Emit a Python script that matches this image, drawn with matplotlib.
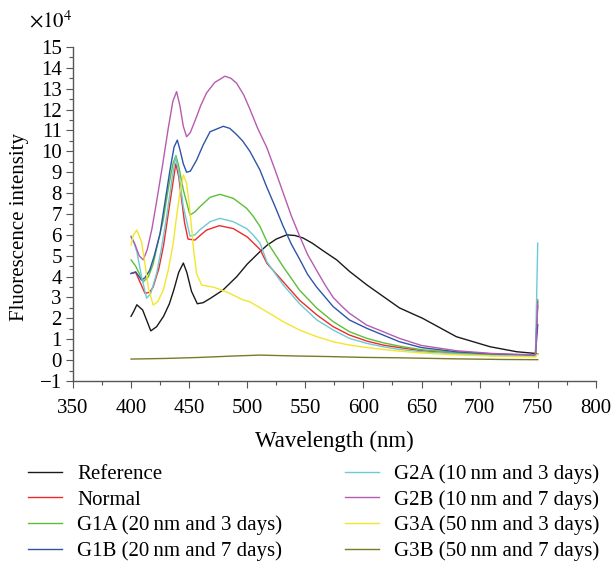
import matplotlib
matplotlib.use("Agg")
import matplotlib.pyplot as plt
from matplotlib.ticker import MultipleLocator, FuncFormatter

plt.rcParams['font.family'] = ['Liberation Serif', 'DejaVu Serif']
plt.rcParams['mathtext.fontset'] = 'stix'

# ---- data (intensity in units of 1e4) ----
ref_wl = [400, 402, 405, 410, 417, 422, 428, 433, 437, 441, 445, 448, 452, 457, 462, 468, 479, 491, 500, 511,
          517, 525, 534, 541, 548, 556, 565, 577, 588, 603, 617, 631, 651, 680, 709, 732, 748, 750]
ref_val = [2.1, 2.3, 2.65, 2.4, 1.4, 1.6, 2.1, 2.7, 3.4, 4.2, 4.65, 4.2, 3.3, 2.7, 2.75, 2.95, 3.35, 4.0, 4.6, 5.2,
           5.5, 5.8, 6.0, 5.97, 5.85, 5.6, 5.25, 4.8, 4.25, 3.6, 3.05, 2.5, 2.0, 1.12, 0.64, 0.4, 0.32, 0.3]

nor_wl = [400, 404, 408, 412, 416, 419, 424, 428, 432, 435, 438.5, 441, 443.5, 446, 449, 455, 460, 465, 476, 488,
          500, 511, 517, 531, 545, 560, 574, 588, 603, 617, 631, 650, 680, 710, 748, 750]
nor_val = [4.15, 4.2, 3.7, 3.2, 3.25, 3.5, 4.4, 5.5, 7.0, 8.1, 9.4, 8.8, 7.7, 6.6, 5.8, 5.75, 6.0, 6.23, 6.44, 6.3,
           5.9, 5.3, 4.63, 3.75, 2.87, 2.16, 1.6, 1.2, 0.91, 0.72, 0.6, 0.45, 0.33, 0.25, 0.2, 2.6]

g1a_wl = [400, 404, 410.5, 415, 419, 423, 427.7, 432, 436, 438.6, 441, 445, 450.7, 455, 459.3, 468, 476.5, 488,
          499.5, 505, 511, 517, 531, 545, 560, 574, 588, 603, 617, 631, 650, 680, 710, 748, 750]
g1a_val = [4.8, 4.5, 3.75, 4.0, 4.6, 5.6, 6.7, 8.2, 9.4, 9.8, 9.3, 8.15, 6.95, 7.1, 7.35, 7.8, 7.94, 7.75,
           7.27, 6.9, 6.4, 5.67, 4.47, 3.35, 2.48, 1.84, 1.36, 1.04, 0.83, 0.67, 0.5, 0.36, 0.28, 0.22, 2.9]

g1b_wl = [400, 404, 409, 412, 416, 420, 425, 429, 433.5, 437, 439.8, 442, 445, 447.8, 451, 456.4, 462, 468, 479.4,
          485, 490.9, 496, 502.3, 511, 516.7, 524, 531, 538, 545.4, 552, 559.7, 574, 588, 603, 617, 631, 650, 680,
          710, 748, 750]
g1b_val = [4.15, 4.23, 3.83, 3.95, 4.3, 5.0, 6.07, 7.5, 9.1, 10.2, 10.54, 10.1, 9.4, 9.0, 9.05, 9.58, 10.3, 10.94, 11.2,
           11.1, 10.8, 10.5, 10.0, 9.1, 8.3, 7.35, 6.4, 5.55, 4.8, 4.1, 3.5, 2.56, 1.92, 1.52, 1.2, 0.88, 0.6, 0.4,
           0.3, 0.22, 1.7]

g2a_wl = [400, 402, 405, 409, 413.4, 417, 422, 426, 430.6, 435, 438.4, 441, 445, 450.7, 455, 459, 468, 476.5, 488,
          499.5, 505, 511, 517, 531, 545, 560, 574, 588, 603, 617, 631, 650, 680, 710, 748, 750]
g2a_val = [5.94, 5.7, 5.2, 4.0, 2.96, 3.2, 4.15, 5.3, 6.87, 8.6, 9.74, 9.0, 7.35, 5.94, 6.0, 6.23, 6.63, 6.79, 6.63,
           6.3, 6.0, 5.6, 4.7, 3.6, 2.7, 1.92, 1.44, 1.04, 0.8, 0.64, 0.51, 0.4, 0.3, 0.22, 0.18, 5.6]

g2b_wl = [400, 403, 407, 410.5, 414, 418, 422, 427, 432, 436, 439.2, 442, 445, 447.8, 451, 456, 460, 465, 472, 480.8,
          486, 490.9, 497, 502, 509, 516.7, 524, 531, 538, 545.4, 552, 559.7, 567, 574, 581, 588, 602.7, 617, 631,
          650, 680, 710, 748, 750]
g2b_val = [5.9, 5.6, 5.0, 4.8, 5.3, 6.3, 7.6, 9.3, 11.1, 12.4, 12.86, 12.2, 11.2, 10.7, 10.9, 11.6, 12.2, 12.8, 13.3, 13.6,
           13.5, 13.26, 12.7, 12.06, 11.1, 10.2, 9.1, 8.0, 6.9, 5.9, 5.05, 4.3, 3.6, 3.0, 2.6, 2.24, 1.68, 1.36, 1.04,
           0.7, 0.45, 0.32, 0.25, 2.8]

g3a_wl = [400, 402, 405, 409, 412, 414.8, 419, 423, 427.7, 432, 436.3, 439, 442, 445, 447.8, 450, 452, 454, 456.4,
          460.7, 465, 470.7, 482, 496.6, 502, 516.7, 531, 545, 560, 574, 588, 603, 617, 631, 650, 680, 710, 748, 750]
g3a_val = [5.5, 6.0, 6.23, 5.67, 4.6, 3.5, 2.64, 2.8, 3.35, 4.3, 5.6, 6.8, 8.0, 8.87, 8.47, 7.5, 6.4, 5.2, 4.15,
           3.6, 3.55, 3.5, 3.27, 2.88, 2.8, 2.32, 1.84, 1.44, 1.12, 0.88, 0.72, 0.6, 0.51, 0.43, 0.34, 0.25, 0.2, 0.15, 0.3]

g3b_wl = [400, 430, 460, 490, 511, 540, 570, 600, 631, 680, 720, 750]
g3b_val = [0.05, 0.08, 0.13, 0.2, 0.24, 0.2, 0.17, 0.13, 0.11, 0.06, 0.03, 0.02]

labels = ["Reference", "Normal", "G1A (20\u2009nm and 3 days)", "G1B (20\u2009nm and 7 days)",
          "G2A (10\u2009nm and 3 days)", "G2B (10\u2009nm and 7 days)", "G3A (50\u2009nm and 3 days)",
          "G3B (50\u2009nm and 7 days)"]
colors = ["#1a1a1a", "#ee2a2a", "#5cbf3a", "#2f55a8", "#6ccad6", "#b65cb0", "#f2e62c", "#7a7a2c"]

series = [(ref_wl, ref_val), (nor_wl, nor_val), (g1a_wl, g1a_val), (g1b_wl, g1b_val),
          (g2a_wl, g2a_val), (g2b_wl, g2b_val), (g3a_wl, g3a_val), (g3b_wl, g3b_val)]

FS = 15

fig = plt.figure(figsize=(6.13, 5.64), dpi=100)
ax = fig.add_axes([0.119, 0.3245, 0.853, 0.5922])

handles = []
for (wl, v), c, lab in zip(series, colors, labels):
    h, = ax.plot(wl, v, color=c, lw=1.0, label=lab)
    handles.append(h)

ax.set_xlim(350, 800)
ax.set_ylim(-1, 15)
ax.xaxis.set_major_locator(MultipleLocator(50))
ax.xaxis.set_minor_locator(MultipleLocator(25))
ax.yaxis.set_major_locator(MultipleLocator(1))
ax.yaxis.set_minor_locator(MultipleLocator(0.5))
ax.yaxis.set_major_formatter(FuncFormatter(lambda v, p: f"{int(round(v))}".replace("-", "\u2212")))

for s in ["top", "right"]:
    ax.spines[s].set_visible(False)
for s in ["left", "bottom"]:
    ax.spines[s].set_color("#555555")
    ax.spines[s].set_linewidth(1.0)
ax.tick_params(which="major", direction="out", length=5, width=0.8, color="#555555", labelsize=FS)
ax.tick_params(which="minor", direction="out", length=3, width=0.8, color="#555555")
ax.tick_params(axis="x", which="major", pad=8)
ax.tick_params(axis="y", which="major", pad=3)

ax.set_xlabel("Wavelength (nm)", fontsize=16.5, labelpad=9)
ax.set_ylabel("Fluorescence intensity", fontsize=FS)
ax.yaxis.set_label_coords(-0.084, 0.46)
fig.text(0.048, 0.962, r"$\times10^4$", fontsize=FS, ha="left", va="center")

fig.legend(handles=handles, labels=labels, ncol=2, loc="upper left", bbox_to_anchor=(0.046, 0.177),
           frameon=False, fontsize=FS, handlelength=1.63, handletextpad=0.72, columnspacing=3.0,
           labelspacing=0.29, borderaxespad=0, borderpad=0)

fig.savefig("out.png", dpi=100)
